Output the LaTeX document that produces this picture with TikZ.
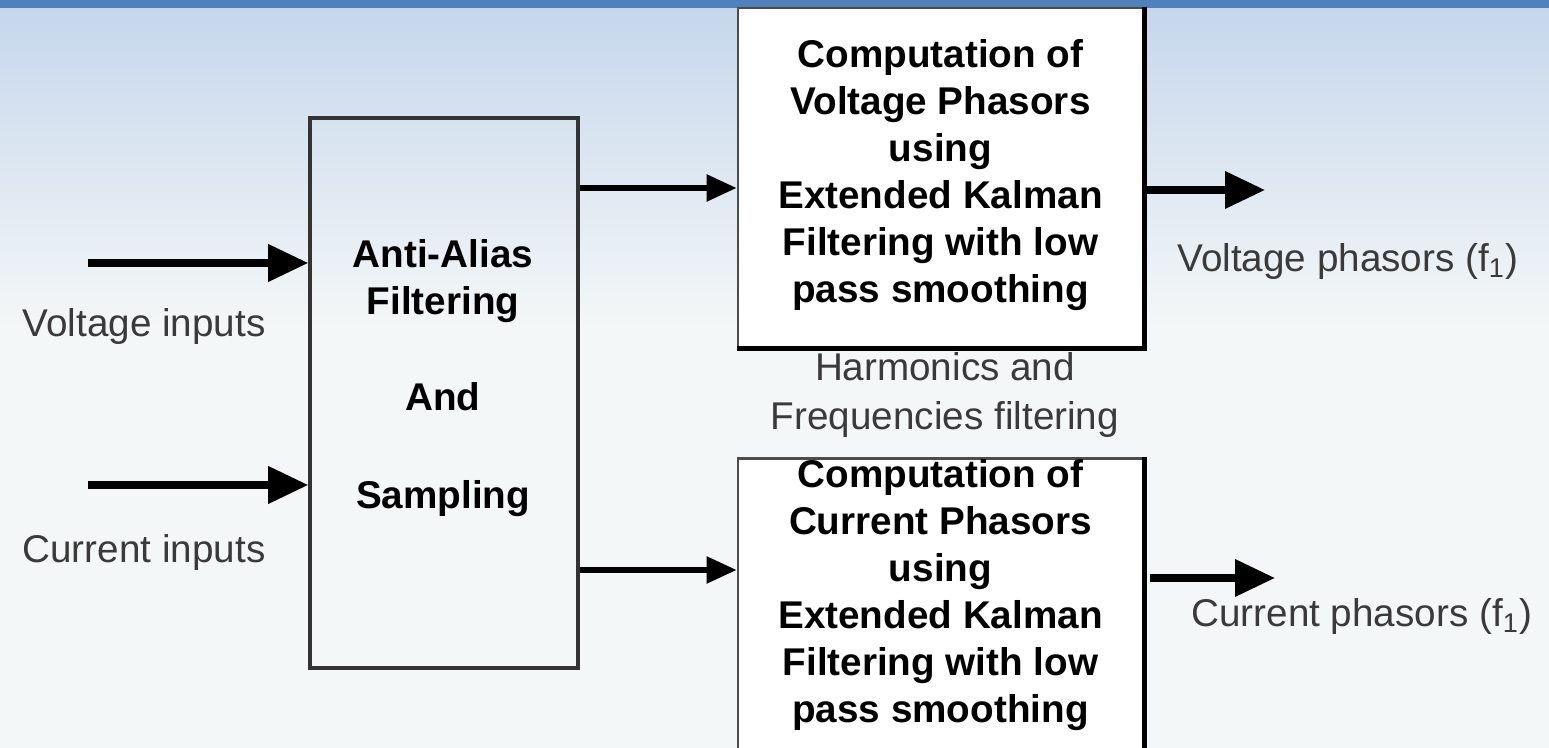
\documentclass[tikz,border=0pt]{standalone}
\usepackage{fontspec}
\setmainfont{Liberation Sans}
\usepackage{tikz}
\usetikzlibrary{arrows.meta,positioning}
\definecolor{myBand}{RGB}{79,129,189}
\definecolor{mySky}{RGB}{198,215,236}
\definecolor{myPale}{RGB}{244,247,247}
\definecolor{myLabel}{RGB}{58,58,58}

\begin{document}
\begin{tikzpicture}[%
	every node/.style={
		font=\fontsize{11}{13.4}\selectfont,
		inner sep=0pt,
	},
	blockbox/.style={draw=black!80, line width=1pt},
	phasorbox/.style={draw=black!70, line width=0.8pt, fill=white, minimum width=4.05cm},
	boldtext/.style={font=\fontsize{11}{13.4}\selectfont\bfseries, align=center},
	labeltext/.style={text=myLabel, align=center},
	bigarrow/.style={line width=2pt, -{Triangle[length=0.40cm,width=0.36cm]}},
	midarrow/.style={line width=1.6pt, -{Triangle[length=0.30cm,width=0.26cm]}},
	]
	% background and band on top
	\useasboundingbox (0,0) rectangle (15.49,7.48);
	\clip (0,0) rectangle (15.49,7.48);
	\fill[myPale] (0,0) rectangle (15.49,7.48);
	\shade[top color=mySky, bottom color=myPale] (0,4.2) rectangle (15.49,7.40);
	\fill[myBand] (0,7.40) rectangle (15.49,7.48);
	
	% draw the blocks
	\node[blockbox, minimum width=2.68cm, minimum height=5.50cm] (aa) at (4.44,3.55) {};
	\node[phasorbox, minimum height=3.39cm] (vbox) at (9.405,5.705) {};
	\node[phasorbox, minimum height=3.20cm, anchor=north] (ibox) at (9.405,2.91) {};
	\draw[line width=1.4pt] (vbox.north east) -- (vbox.south east) -- (vbox.south west);
	\draw[line width=1.4pt] (ibox.north east) -- (ibox.south east);
	
	% place block texts
	\node[boldtext] (aatext) at (4.43,3.70) {Anti-Alias\\Filtering\\[0.49cm]And\\[0.5cm]Sampling};
	\node[boldtext] (vtext) at (9.405,5.73) {Computation of\\Voltage Phasors\\using\\Extended Kalman\\Filtering with low\\pass smoothing};
	\node[boldtext] (itext) at (9.405,1.53) {Computation of\\Current Phasors\\using\\Extended Kalman\\Filtering with low\\pass smoothing};
	
	% free ends of the arrows
	\coordinate (vin) at (0.88,4.85);
	\coordinate (cin) at (0.88,2.63);
	\coordinate (vtap) at (0,5.60);
	\coordinate (itap) at (0,1.78);
	\coordinate (vout) at (12.65,5.58);
	\coordinate (iout) at (12.75,1.70);
	
	% draw arrows
	\draw[bigarrow] (vin) -- (aa.west |- vin);
	\draw[bigarrow] (cin) -- (aa.west |- cin);
	\draw[midarrow] (aa.east |- vtap) -- (vbox.west |- vtap);
	\draw[midarrow] (aa.east |- itap) -- (ibox.west |- itap);
	\draw[bigarrow] (vbox.east |- vout) -- (vout);
	\draw[bigarrow, shorten <=1.5pt] (ibox.east |- iout) -- (iout);
	
	% place labels
	\node[labeltext] (vinlabel) at (1.44,4.21) {Voltage inputs};
	\node[labeltext] (cinlabel) at (1.44,1.95) {Current inputs};
	\node[labeltext] (voutlabel) at (13.48,4.86) {Voltage phasors (f\textsubscript{1})};
	\node[labeltext] (ioutlabel) at (13.62,1.31) {Current phasors (f\textsubscript{1})};
	\node[labeltext, font=\fontsize{11}{14.2}\selectfont] (filtlabel) at (9.45,3.53) {Harmonics and\\Frequencies filtering};
\end{tikzpicture}
\end{document}
